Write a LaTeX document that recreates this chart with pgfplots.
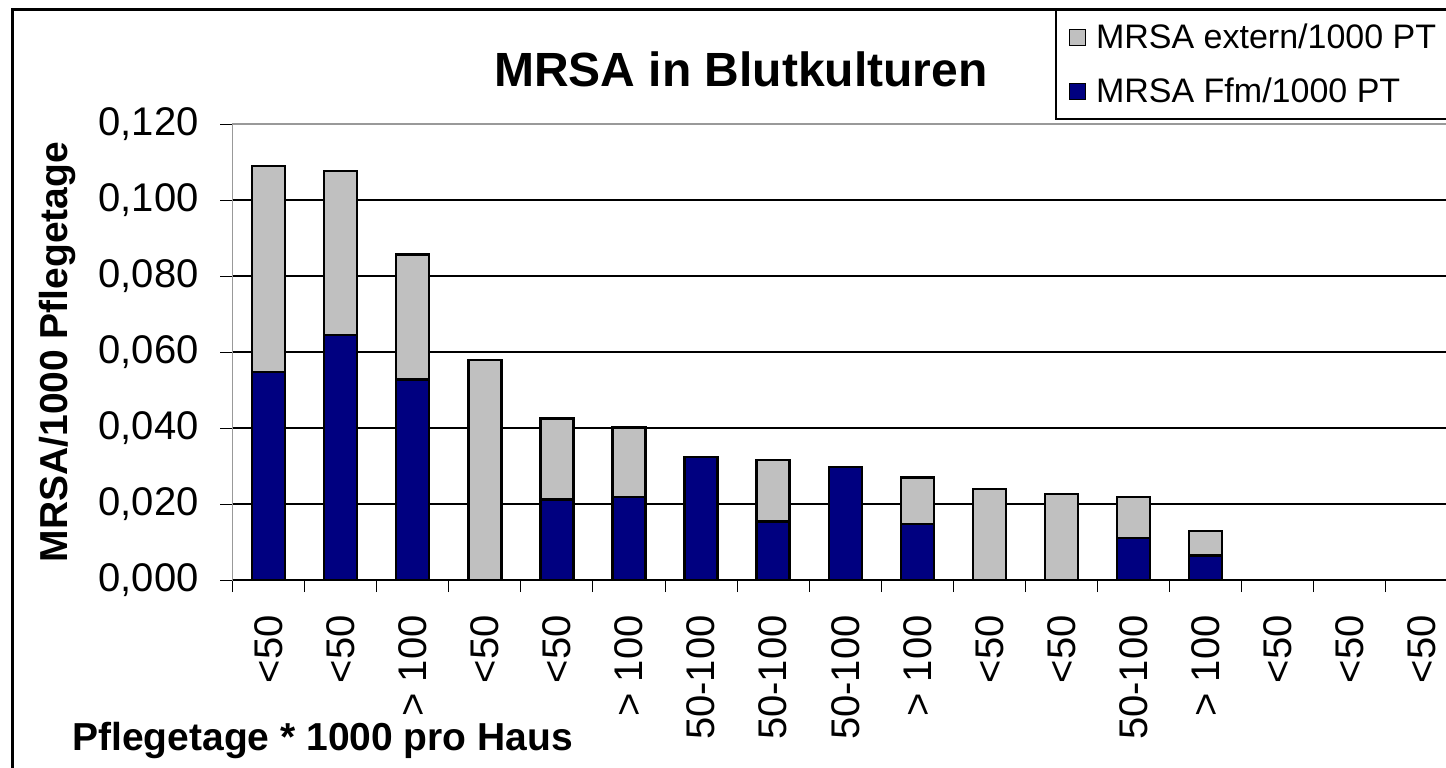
\documentclass[border=0pt]{standalone}
\usepackage{pgfplots}
\usepackage{pgfplotstable}
\pgfplotsset{compat=1.18}
\usepackage{fontspec}
\setmainfont{Liberation Sans}
\definecolor{ffm}{RGB}{0,0,128}
\definecolor{ext}{RGB}{192,192,192}
\pgfplotstableread{
x ffm ext
0 0.0548 0.0542
1 0.0645 0.0431
2 0.0528 0.0329
3 0.0000 0.0579
4 0.0212 0.0213
5 0.0218 0.0183
6 0.0323 0.0000
7 0.0154 0.0162
8 0.0297 0.0000
9 0.0147 0.0123
10 0.0000 0.0239
11 0.0000 0.0226
12 0.0110 0.0108
13 0.0064 0.0065
14 0.0000 0.0000
15 0.0000 0.0000
16 0.0000 0.0000
}\datatable
\begin{document}
\begin{tikzpicture}
\useasboundingbox (0,0) rectangle (723pt,-383.5pt);
\clip (0,0) rectangle (723pt,-383.5pt);
\fill[white] (0,0) rectangle (723pt,-383.5pt);
\draw[line width=1.5pt] (6.35pt,-400pt) -- (6.35pt,-4.5pt) -- (740pt,-4.5pt);
\begin{axis}[
  at={(116.25pt,-290pt)}, anchor=south west,
  scale only axis, width=612.75pt, height=228pt,
  xmin=-0.5, xmax=16.5, ymin=0, ymax=0.12,
  ybar stacked, bar width=16.5pt,
  legend image code/.code={\draw[#1, draw=black, line width=0.6pt] (0pt,-4pt) rectangle (8pt,4pt);},
  xtick={-0.5,0.5,...,16.5},
  x tick label as interval,
  xticklabels={<50,<50,> 100,<50,<50,> 100,50-100,50-100,50-100,> 100,<50,<50,50-100,> 100,<50,<50,<50},
  ytick={0,0.02,0.04,0.06,0.08,0.1,0.12},
  scaled y ticks=false,
  /pgf/number format/fixed, /pgf/number format/fixed zerofill, /pgf/number format/precision=3,
  /pgf/number format/use comma, /pgf/number format/assume math mode=true,
  tick label style={font=\fontsize{20}{20}\selectfont},
  yticklabel style={inner sep=0pt, anchor=east, xshift=-10.75pt},
  xticklabel style={inner sep=0pt, yshift=-11.5pt, rotate=90, anchor=east},
  tick align=outside, major tick length=6pt,
  xtick pos=bottom, ytick pos=left,
  tick style={black, line width=0.5pt},
  ymajorgrids, major grid style={black, line width=0.6pt},
  axis line style={gray!80, line width=0.6pt},
  title={MRSA in Blutkulturen},
  title style={at={(axis description cs:0.4149,1.094)}, anchor=center, inner sep=0pt, font=\bfseries\fontsize{24}{24}\selectfont},
  ylabel={MRSA/1000 Pflegetage},
  ylabel style={at={(axis description cs:-0.1432,0.5)}, anchor=center, inner sep=0pt, font=\bfseries\fontsize{19.5}{19.5}\selectfont},
  xlabel={Pflegetage * 1000 pro Haus},
  xlabel style={at={(axis description cs:-0.131,-0.3728)}, anchor=base west, inner sep=0pt, font=\bfseries\fontsize{19.5}{19.5}\selectfont},
  reverse legend,
  legend style={at={(axis description cs:0.6712,1.2522)}, anchor=north west, draw=black, line width=0.8pt,
    font=\fontsize{17}{17}\selectfont, inner xsep=6.5pt, inner ysep=5pt, row sep=9pt, column sep=3pt,
    cells={anchor=west}},
]
\addplot[fill=ffm, draw=black, line width=1.2pt] table[x=x, y=ffm] {\datatable};
\addlegendentry{\makebox[200pt][l]{MRSA Ffm/1000 PT}}
\addplot[fill=ext, draw=black, line width=1.2pt] table[x=x, y=ext] {\datatable};
\addlegendentry{\makebox[200pt][l]{MRSA extern/1000 PT}}
\draw[black, line width=0.8pt] (axis cs:-0.5,0) -- (axis cs:16.5,0);
\draw[gray!80, line width=0.8pt] (axis cs:-0.5,0.12) -- (axis cs:16.5,0.12);
\end{axis}
\end{tikzpicture}
\end{document}
